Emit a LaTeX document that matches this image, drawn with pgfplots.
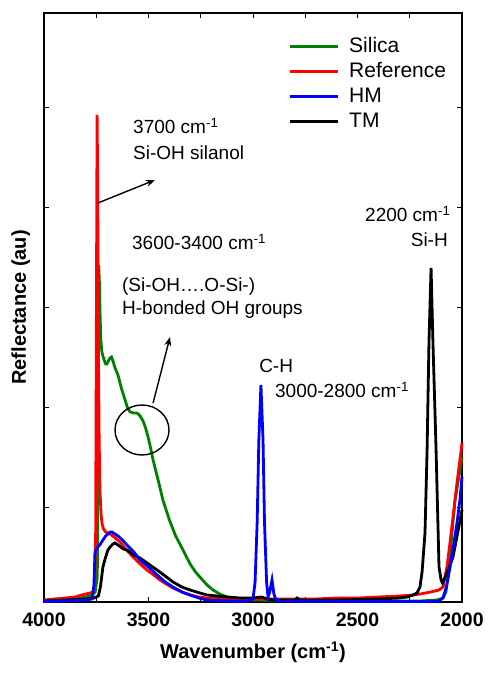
\documentclass[border=0pt]{standalone}
\usepackage{pgfplots}
\pgfplotsset{compat=1.18}
\usepackage{fontspec}
\setmainfont{Liberation Sans}
\usetikzlibrary{arrows.meta}
\definecolor{silica}{RGB}{0,128,0}
\newcommand{\annfont}{\fontsize{19}{23}\selectfont}

\begin{document}
\begin{tikzpicture}
\begin{axis}[
  name=ax,
  scale only axis,
  width=418pt, height=589pt,
  xmin=2000, xmax=4000, ymin=0, ymax=589,
  x dir=reverse,
  xtick={2000,2500,3000,3500,4000},
  minor x tick num=1,
  ytick={95,195,295,395,495},
  yticklabels={},
  tick pos=both,
  tick align=inside,
  major tick length=5pt, minor tick length=5pt,
  tick style={black, line width=0.8pt},
  axis line style={line width=1.2pt},
  /pgf/number format/1000 sep={},
  /pgf/number format/assume math mode=true,
  xticklabel style={font=\bfseries\fontsize{19.5}{23}\selectfont, yshift=-7pt},
  label style={font=\bfseries\fontsize{20}{24}\selectfont},
  xlabel={Wavenumber (cm\textsuperscript{-1})},
  xlabel style={at={(axis description cs:0.5,0)}, anchor=north, yshift=-36pt},
  ylabel={Reflectance (au)},
  ylabel style={at={(axis description cs:-0.025,0.5)}, anchor=south},
  legend style={draw=none, fill=none, at={(0.577,0.968)}, anchor=north west,
    font=\fontsize{21}{25}\selectfont, legend cell align=left,
    nodes={text height=15pt, text depth=4pt, inner sep=3pt}, row sep=0pt},
  legend image code/.code={\draw[#1] (0pt,0pt) -- (48pt,0pt); \path (55pt,0pt);},
  clip=false,
]
\addlegendimage{silica, line width=2.8pt}
\addlegendentry{Silica}
\addlegendimage{red, line width=2.8pt}
\addlegendentry{Reference}
\addlegendimage{blue, line width=2.8pt}
\addlegendentry{HM}
\addlegendimage{black, line width=2.8pt}
\addlegendentry{TM}

% Silica
\addplot[silica, line width=2.8pt, forget plot] coordinates {
(4000,1) (3900,2) (3850,3) (3800,5) (3770,7) (3755,10) (3745,25) (3741,150)
(3738,337) (3735,320) (3732,290) (3728,262) (3723,250) (3718,246) (3712,242)
(3705,238) (3699,238) (3692,241) (3684,244) (3677,245) (3670,241) (3660,234)
(3646,227) (3630,214) (3612,202) (3600,194) (3588,190) (3570,189) (3555,189)
(3540,186) (3526,181) (3514,174) (3502,165) (3490,154) (3478,142) (3466,132)
(3454,122) (3431,102) (3400,82) (3370,66) (3335,52) (3301,38) (3275,30)
(3254,25) (3220,17) (3191,12) (3160,8) (3124,5) (3062,3) (3000,2) (2800,1.5)
(2500,1) (2200,1) (2120,2) (2091,4) (2077,10) (2060,35) (2048,69) (2033,102)
(2015,125) (2000,145)
};

% Reference
\addplot[red, line width=2.8pt, forget plot] coordinates {
(4000,2) (3950,3) (3900,4) (3850,5) (3820,7) (3800,8) (3780,9) (3766,10)
(3758,14) (3753,60) (3749,300) (3746,487) (3743,420) (3740,260) (3736,160)
(3732,110) (3727,88) (3722,78) (3715,73) (3705,70) (3694,69) (3684,68)
(3665,65) (3636,60) (3605,52) (3574,45) (3540,38) (3507,32) (3475,27)
(3445,22) (3415,18) (3383,14) (3340,10) (3301,7) (3260,5) (3220,4)
(3150,3.5) (3062,3) (2900,3) (2700,3) (2600,4) (2500,4) (2400,5) (2300,6)
(2234,7) (2200,8) (2150,10) (2110,12) (2091,15) (2072,35) (2057,60)
(2043,85) (2024,119) (2010,142) (2000,159)
};

% TM
\addplot[black, line width=2.8pt, forget plot] coordinates {
(4000,1) (3900,2) (3800,3) (3760,4) (3740,6) (3730,15) (3718,35) (3705,45)
(3694,52) (3684,55) (3670,58) (3660,59) (3646,57) (3620,53) (3603,52)
(3570,47) (3541,44) (3500,38) (3459,32) (3420,26) (3383,20) (3340,15)
(3301,12) (3254,9) (3220,7) (3124,5) (3062,4) (3000,4) (2960,5) (2930,3)
(2900,2) (2800,2) (2789,4) (2775,2) (2600,2) (2400,3) (2300,4) (2263,5)
(2234,7) (2215,9) (2201,15) (2191,30) (2177,69) (2167,152) (2158,260)
(2148,334) (2139,260) (2124,152) (2110,35) (2100,22) (2093,19) (2070,30)
(2043,45) (2020,70) (2000,92)
};

% HM
\addplot[blue, line width=2.8pt, forget plot] coordinates {
(4000,0.5) (3900,1) (3800,2) (3770,3) (3761,17) (3756,50) (3751,52)
(3742,55) (3730,58) (3718,62) (3705,66) (3694,68) (3684,70) (3675,70)
(3660,68) (3646,66) (3625,62) (3603,57) (3570,50) (3541,42) (3500,35)
(3459,27) (3420,20) (3383,15) (3340,10) (3301,7) (3260,4) (3220,2)
(3062,0.5) (3030,1) (3000,3) (2990,20) (2980,80) (2972,162) (2962,217)
(2952,162) (2945,80) (2935,20) (2928,5) (2920,10) (2909,22) (2900,8)
(2890,2) (2870,1) (2500,0.5) (2200,0.5) (2110,1) (2091,4) (2075,15)
(2057,35) (2040,57) (2024,79) (2010,102) (2000,125)
};

% annotations
\node[anchor=west, inner sep=0pt, font=\annfont] at (axis cs:3574,476) {3700 cm\textsuperscript{-1}};
\node[anchor=west, inner sep=0pt, font=\annfont] at (axis cs:3574,449) {Si-OH silanol};
\node[anchor=west, inner sep=0pt, font=\annfont] at (axis cs:3579,360) {3600-3400 cm\textsuperscript{-1}};
\node[anchor=west, inner sep=0pt, font=\annfont] at (axis cs:3627,315) {(Si-OH….O-Si-)};
\node[anchor=west, inner sep=0pt, font=\annfont] at (axis cs:3627,292) {H-bonded OH groups};
\node[anchor=west, inner sep=0pt, font=\annfont] at (axis cs:2971,236) {C-H};
\node[anchor=west, inner sep=0pt, font=\annfont] at (axis cs:2895,212) {3000-2800 cm\textsuperscript{-1}};
\node[anchor=west, inner sep=0pt, font=\annfont] at (axis cs:2464,388) {2200 cm\textsuperscript{-1}};
\node[anchor=east, inner sep=0pt, font=\annfont] at (axis cs:2067,362) {Si-H};

\draw[-{Stealth[length=9pt,width=7pt]}, line width=1.4pt] (axis cs:3742,399) -- (axis cs:3469,422);
\draw[-{Stealth[length=9pt,width=7pt]}, line width=1.4pt] (axis cs:3478,199) -- (axis cs:3397,265);
\draw[line width=1.4pt] (axis cs:3531,172) ellipse [x radius=27pt, y radius=25pt];
\end{axis}
\path ([shift={(-44pt,-73pt)}]ax.south west) rectangle ([shift={(26pt,13pt)}]ax.north east);
\end{tikzpicture}
\end{document}
